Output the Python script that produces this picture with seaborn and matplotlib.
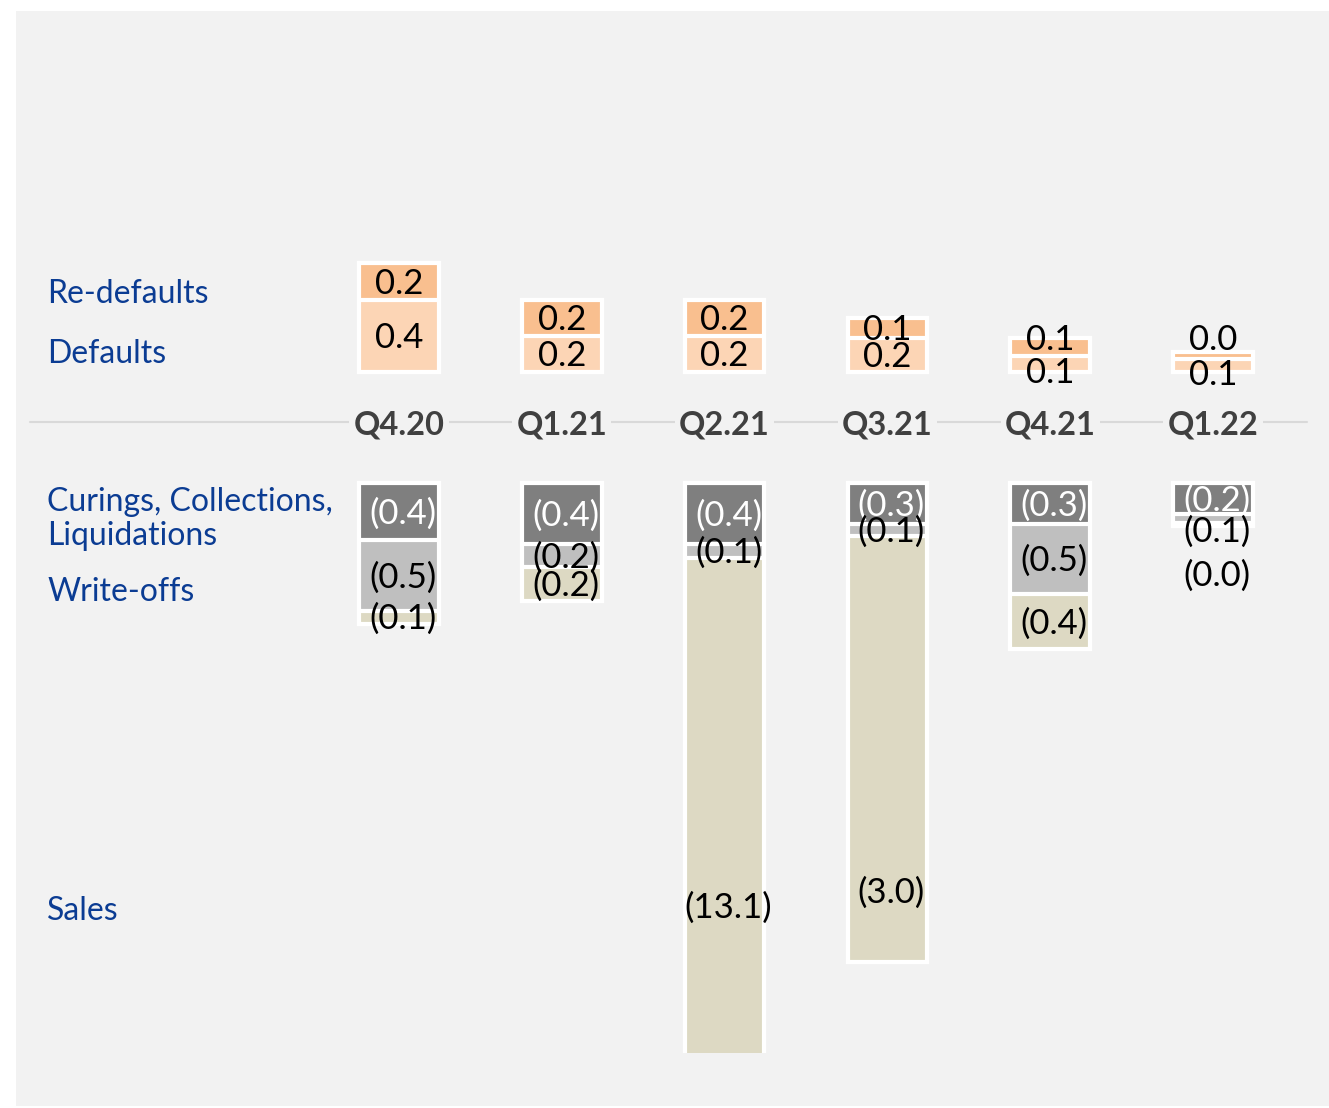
import matplotlib
matplotlib.use("Agg")
import matplotlib.pyplot as plt
import seaborn as sns
import numpy as np
from matplotlib.patches import Rectangle
from matplotlib.lines import Line2D
import matplotlib.transforms as mtransforms

# ---------------- data ----------------
quarters = ["Q4.20", "Q1.21", "Q2.21", "Q3.21", "Q4.21", "Q1.22"]
defaults = [0.40, 0.20, 0.20, 0.19, 0.09, 0.07]
re_defaults = [0.20, 0.20, 0.20, 0.11, 0.10, 0.04]
curings = [-0.40, -0.43, -0.43, -0.29, -0.29, -0.22]
write_offs = [-0.50, -0.16, -0.10, -0.08, -0.49, -0.06]
sales = [-0.09, -0.24, -13.1, -3.0, -0.39, -0.02]

row_labels_top = ["Re-defaults", "Defaults"]
row_labels_bottom = ["Curings, Collections,\nLiquidations", "Write-offs", "Sales"]

# ---------------- style ----------------
sns.set_theme(style="white")
FONT = ["Lato", "DejaVu Sans"]
plt.rcParams["font.family"] = FONT

C_RE = "#F9BF8F"
C_DEF = "#FCD5B5"
C_CUR = "#7F7F7F"
C_WO = "#BFBFBF"
C_SALES = "#DDD9C3"
BG = "#F2F2F2"
BLUE = "#0B3C93"

W, H = 1329, 1108
fig = plt.figure(figsize=(W / 100, H / 100), dpi=100)
fig.patch.set_facecolor("white")
fig.add_artist(Rectangle((16 / W, 2 / H), (W - 16) / W, (1097 - 2) / H,
                         transform=fig.transFigure, facecolor=BG,
                         edgecolor="none", zorder=-10))

L_PX, R_PX = 30, 1307
X0_PX, DX_PX = 399, 162.8
xmin = -(X0_PX - L_PX) / DX_PX
xmax = 5 + (R_PX - (X0_PX + 5 * DX_PX)) / DX_PX

def fig_rect(top_px, bottom_px):
    return [L_PX / W, (H - bottom_px) / H, (R_PX - L_PX) / W, (bottom_px - top_px) / H]

# top axes: value 0 at pixel 372, scale 181 px/unit
TOP_SCALE = 181.0
TOP_ZERO = 372.0
top_bottom_px = TOP_ZERO + 0.03 * TOP_SCALE
ax_top = fig.add_axes(fig_rect(100, top_bottom_px))
ax_top.set_ylim(-0.03, (TOP_ZERO - 100) / TOP_SCALE)

# bottom axes: value 0 at pixel 483, scale 142 px/unit, bottom at 1053
BOT_SCALE = 142.0
BOT_ZERO = 483.0
bot_top_px = BOT_ZERO - 0.03 * BOT_SCALE
ax_bot = fig.add_axes(fig_rect(bot_top_px, 1053))
ax_bot.set_ylim(-(1053 - BOT_ZERO) / BOT_SCALE, 0.03)

bar_kw = dict(width=0.49, edgecolor="white", linewidth=3.0, saturation=1)

# stacked positives (cumulative, drawn largest first)
pos_tot = np.array(defaults) + np.array(re_defaults)
sns.barplot(x=quarters, y=pos_tot, color=C_RE, ax=ax_top, **bar_kw)
sns.barplot(x=quarters, y=defaults, color=C_DEF, ax=ax_top, **bar_kw)

neg_tot = np.array(curings) + np.array(write_offs) + np.array(sales)
neg_cw = np.array(curings) + np.array(write_offs)
sns.barplot(x=quarters, y=neg_tot, color=C_SALES, ax=ax_bot, **bar_kw)
sns.barplot(x=quarters, y=neg_cw, color=C_WO, ax=ax_bot, **bar_kw)
sns.barplot(x=quarters, y=curings, color=C_CUR, ax=ax_bot, **bar_kw)

for ax in (ax_top, ax_bot):
    ax.set_xlim(xmin, xmax)
    ax.set_facecolor("none")
    ax.set_axis_off()

# ---------------- value labels ----------------
LBL_SIZE = 25

def px2pt(p):
    return p * 72 / 100

# label pixel offsets (dx, dy downward) for crowded segments
top_offsets = {("re", 4): (0, -9), ("def", 4): (0, 7),
               ("re", 5): (0, -18), ("def", 5): (0, 7)}
bot_offsets = {("wo", 5): (0, 11), ("sa", 5): (0, 50)}
sales_label_y = {2: -2.98, 3: -2.87}

def put(ax, x, y, txt, color, dx_px=0, dy_px=0):
    ax.annotate(txt, xy=(x, y), xytext=(px2pt(dx_px), -px2pt(dy_px)),
                textcoords="offset points", ha="center", va="center",
                fontsize=LBL_SIZE, color=color, annotation_clip=False)

for i in range(len(quarters)):
    d, r = defaults[i], re_defaults[i]
    dx, dy = top_offsets.get(("def", i), (0, 0))
    put(ax_top, i, d / 2, f"{d:.1f}", "black", dx, dy + 2)
    dx, dy = top_offsets.get(("re", i), (0, 0))
    put(ax_top, i, d + r / 2, f"{r:.1f}", "black", dx, dy + 2)

    c, w, s = curings[i], write_offs[i], sales[i]
    put(ax_bot, i, c / 2, f"({abs(c):.1f})", "white", 4, 2)
    dx, dy = bot_offsets.get(("wo", i), (0, 0))
    put(ax_bot, i, c + w / 2, f"({abs(w):.1f})", "black", 4 + dx, dy + 2)
    dx, dy = bot_offsets.get(("sa", i), (0, 0))
    sy = sales_label_y.get(i, c + w + s / 2)
    put(ax_bot, i, sy, f"({abs(s):.1f})", "black", 4 + dx, dy + 2)

# ---------------- category axis line and labels ----------------
AX_Y = 422
fig.add_artist(Line2D([L_PX / W, R_PX / W], [(H - AX_Y) / H] * 2,
                      transform=fig.transFigure, color="#D9D9D9", lw=1.5, zorder=0))
trans = mtransforms.blended_transform_factory(ax_top.transData, fig.transFigure)
for i, q in enumerate(quarters):
    ax_top.text(i, (H - AX_Y - 3) / H, q, transform=trans, ha="center", va="center",
                fontsize=23.5, fontweight="bold", color="#404040",
                bbox=dict(facecolor=BG, edgecolor="none", pad=3),
                clip_on=False, zorder=5)

# ---------------- row labels ----------------
def row(text, y_px):
    fig.text(47 / W, (H - y_px) / H, text, ha="left", va="center",
             fontsize=23, color=BLUE, linespacing=1.2)

row(row_labels_top[0], 294)
row(row_labels_top[1], 354)
row(row_labels_bottom[0], 519)
row(row_labels_bottom[1], 592)
row(row_labels_bottom[2], 911)

fig.savefig("out.png", dpi=100, facecolor=fig.get_facecolor())
